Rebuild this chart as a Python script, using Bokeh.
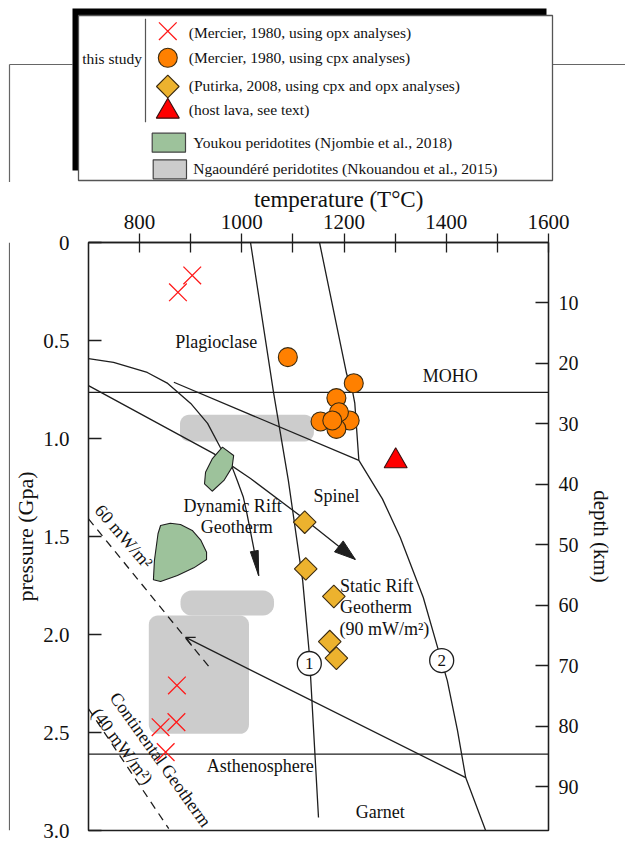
import math
from bokeh.plotting import figure
from bokeh.models import (Range1d, LinearAxis, FixedTicker, NumeralTickFormatter,
                          Span, Arrow, OpenHead)
from bokeh.layouts import column, row
from bokeh.embed import file_html
from bokeh.resources import INLINE
from bokeh.core.properties import value

SERIF = "Liberation Serif"
INK = "#1e1e1e"

# ---------------- axes / scales ----------------
T_MIN, T_MAX = 700, 1600
P_MAX = 3.0
DEPTH_MAX = 97.2
temp_ticks = [800, 1000, 1200, 1400, 1600]
temp_minor = [900, 1100, 1300, 1500]
press_ticks = [0, 0.5, 1.0, 1.5, 2.0, 2.5, 3.0]
depth_ticks = [10, 20, 30, 40, 50, 60, 70, 80, 90]
temp_title = "temperature (T°C)"

# ---------------- data points ----------------
opx_T = [903, 875, 873, 872, 841, 851]
opx_P = [0.168, 0.254, 2.26, 2.447, 2.473, 2.60]
cpx_T = [1090, 1219, 1185, 1154, 1211, 1185, 1190, 1177]
cpx_P = [0.585, 0.718, 0.794, 0.913, 0.908, 0.951, 0.866, 0.908]
put_T = [1123, 1125, 1180, 1172, 1185]
put_P = [1.427, 1.665, 1.806, 2.036, 2.121]
lava_T = [1301]
lava_P = [1.115]

# ---------------- boundaries / geotherms ----------------
moho_P = 0.765
astheno_P = 2.61
line1_T = [1017, 1062, 1091, 1119, 1132, 1150]
line1_P = [0.0, 0.765, 1.214, 1.724, 2.097, 2.934]
line2_T = [1152, 1205, 1217, 1221, 1229, 1275, 1310, 1355, 1383, 1402, 1422, 1438, 1477]
line2_P = [0.0, 0.67, 0.765, 0.82, 1.112, 1.308, 1.505, 1.811, 2.066, 2.235, 2.49, 2.73, 3.0]
num_T = [1132, 1391]
num_P = [2.148, 2.133]
num_text = ["1", "2"]
static_T = [867, 1229]
static_P = [0.713, 1.112]
dyn_T = [700, 749, 815, 855, 900, 933, 958, 981, 991, 1003, 1010, 1023, 1033]
dyn_P = [0.593, 0.612, 0.663, 0.719, 0.821, 0.923, 1.046, 1.146, 1.214, 1.30, 1.383, 1.555, 1.70]
rift_T = [700, 945, 1017, 1121, 1222]
rift_P = [0.73, 1.077, 1.204, 1.408, 1.617]
long_T = [890, 1438]
long_P = [2.015, 2.73]
g60_T = [700, 939]
g60_P = [1.41, 2.175]
g40_T = [700, 857]
g40_P = [2.379, 2.991]

# ---------------- peridotite fields ----------------
ng_left = [879, 880, 818]
ng_right = [1141, 1063, 1014]
ng_top = [0.879, 1.776, 1.903]
ng_bottom = [1.015, 1.903, 2.507]
yk1_T = [962, 984, 981, 965, 942, 927, 929, 942]
yk1_P = [1.044, 1.087, 1.146, 1.214, 1.269, 1.231, 1.172, 1.104]
yk2_T = [841, 860, 880, 903, 920, 931, 931, 906, 874, 841, 827, 829, 836]
yk2_P = [1.444, 1.432, 1.439, 1.469, 1.520, 1.580, 1.617, 1.660, 1.699, 1.730, 1.721, 1.622, 1.486]

# ---------------- labels ----------------
field_text = ["Plagioclase", "MOHO", "Spinel", "Asthenosphere", "Garnet"]
field_T = [950, 1408, 1185, 1036, 1271]
field_P = [0.510, 0.679, 1.291, 2.673, 2.908]
dynl_text = ["Dynamic Rift", "Geotherm"]
dynl_T = [982, 990]
dynl_P = [1.342, 1.449]
statl_text = ["Static Rift", "Geotherm", "(90 mW/m²)"]
statl_T = [1192, 1192, 1191]
statl_P = [1.755, 1.862, 1.974]
rot_text = ["60 mW/m²", "Continental Geotherm", "(40 mW/m²)"]
rot_T = [769, 841, 766]
rot_P = [1.50, 2.638, 2.57]
rot_angle = [-0.86, -0.95, -0.93]

legend_rows = ["(Mercier, 1980, using opx analyses)",
               "(Mercier, 1980, using cpx analyses)",
               "(Putirka, 2008, using cpx and opx analyses)",
               "(host lava, see text)"]
legend_fields = ["Youkou peridotites (Njombie et al., 2018)",
                 "Ngaoundéré peridotites (Nkouandou et al., 2015)"]

# ---------------- layout geometry (page px) ----------------
W = 625
H1 = 182
H = 852
H2 = H - H1
STRIP = 10
FL, FR, FT, FB = 88, 548, 242, 830
PX_T = (FR - FL) / (T_MAX - T_MIN)
PX_P = (FB - FT) / P_MAX

C_ORANGE = "#ff8000"
C_GOLD = "#ecb22e"
C_RED = "#ff1a1a"
C_GREEN = "#9dc29b"
C_GRAY = "#cccccc"

X_STYLE = dict(marker="x", size=25, line_color=C_RED, line_width=1.3)
O_STYLE = dict(marker="circle", size=19, fill_color=C_ORANGE, line_color="#3a2a10", line_width=1.1)
D_STYLE = dict(marker="square", size=16, angle=math.pi / 4, fill_color=C_GOLD, line_color="#3a2a10", line_width=1.1)
TR_STYLE = dict(marker="triangle", size=23, fill_color="#ff0000", line_color="#3a1010", line_width=1.1)


def rounded_rect(l, r, t, b, rad_px, n=7):
    rx = rad_px / PX_T
    ry = rad_px / PX_P
    xs, ys = [], []
    for cx, cy, a0 in [(r - rx, t + ry, -math.pi / 2), (r - rx, b - ry, 0.0),
                       (l + rx, b - ry, math.pi / 2), (l + rx, t + ry, math.pi)]:
        for k in range(n + 1):
            a = a0 + (math.pi / 2) * k / n
            xs.append(cx + rx * math.cos(a))
            ys.append(cy + ry * math.sin(a))
    return xs, ys


def head(tipT, tipP, fromT, fromP, length, half):
    dx = (tipT - fromT) * PX_T
    dy = (tipP - fromP) * PX_P
    nrm = math.hypot(dx, dy)
    ux, uy = dx / nrm, dy / nrm
    bx, by = -ux * length, -uy * length
    qx, qy = -uy * half, ux * half
    pts = [(0, 0), (bx + qx, by + qy), (bx - qx, by - qy)]
    return [tipT + x / PX_T for x, _ in pts], [tipP + y / PX_P for _, y in pts]


# ================= main figure =================
p = figure(width=W - STRIP, height=H2,
           x_range=Range1d(T_MIN, T_MAX), y_range=Range1d(P_MAX, 0),
           x_axis_location="above", y_axis_location="left",
           output_backend="svg", toolbar_location=None,
           min_border_left=FL - STRIP, min_border_right=W - FR,
           min_border_top=FT - H1, min_border_bottom=H - FB)
p.grid.visible = False
p.outline_line_color = INK
p.outline_line_width = 1.3
p.background_fill_color = "white"
p.border_fill_color = "white"
p.extra_y_ranges = {"depth": Range1d(DEPTH_MAX, 0)}


def style_axis(ax, lab_size, title_size, t_in, t_out, standoff, title_standoff):
    ax.axis_line_color = INK
    ax.axis_line_width = 1.3
    ax.major_tick_line_color = INK
    ax.major_tick_line_width = 1.3
    ax.minor_tick_line_color = INK
    ax.minor_tick_line_width = 1.3
    ax.major_tick_in = t_in
    ax.major_tick_out = t_out
    ax.minor_tick_in = t_in
    ax.minor_tick_out = t_out
    ax.major_label_text_font = SERIF
    ax.major_label_text_font_size = lab_size
    ax.major_label_text_color = "#111111"
    ax.axis_label_text_font = SERIF
    ax.axis_label_text_font_style = "normal"
    ax.axis_label_text_font_size = title_size
    ax.axis_label_text_color = "#111111"
    ax.major_label_standoff = standoff
    ax.axis_label_standoff = title_standoff


xa = p.xaxis[0]
xa.ticker = FixedTicker(ticks=temp_ticks, minor_ticks=temp_minor)
# the source figure's title sits ~20 px right of the frame centre: pad with no-break spaces
xa.axis_label = "\u00a0" * 7 + temp_title
style_axis(xa, "21px", "23px", 10, 9, 5, 0)

ya = p.yaxis[0]
ya.ticker = FixedTicker(ticks=press_ticks)
ya.formatter = NumeralTickFormatter(format="0.0")
ya.major_label_overrides = {0: "0"}
ya.axis_label = "pressure (Gpa)"
style_axis(ya, "21px", "22px", 13, 0, 19, 2)

ra = LinearAxis(y_range_name="depth", ticker=FixedTicker(ticks=depth_ticks),
                axis_label="depth (km)")
style_axis(ra, "20px", "21px", 13, 0, 10, 7)
p.add_layout(ra, "right")

# Ngaoundéré fields
ng_xs, ng_ys = [], []
for l, r, t, b, rad in zip(ng_left, ng_right, ng_top, ng_bottom, [9, 11, 9]):
    xs, ys = rounded_rect(l, r, t, b, rad)
    ng_xs.append(xs)
    ng_ys.append(ys)
p.patches(ng_xs, ng_ys, fill_color=C_GRAY, line_color=None)

# horizontal boundaries
for loc in (moho_P, astheno_P):
    p.add_layout(Span(location=loc, dimension="width", line_color=INK,
                      line_width=1.3, level="underlay"))

LW = dict(line_color=INK, line_width=1.3)
p.line(line1_T, line1_P, **LW)
p.line(line2_T, line2_P, **LW)
p.line(static_T, static_P, **LW)
p.line(dyn_T, dyn_P, **LW)
p.line(rift_T, rift_P, **LW)
p.add_layout(Arrow(start=OpenHead(size=9, line_color=INK, line_width=1.3), end=None,
                   x_start=long_T[0], y_start=long_P[0], x_end=long_T[1], y_end=long_P[1],
                   line_color=INK, line_width=1.3))
p.line(g60_T, g60_P, line_color=INK, line_width=1.3, line_dash="8 6")
p.line(g40_T, g40_P, line_color=INK, line_width=1.3, line_dash="8 6")

# arrow heads
hx1, hy1 = head(dyn_T[-1], dyn_P[-1], dyn_T[-2], dyn_P[-2], 25, 4)
hx2, hy2 = head(rift_T[-1], rift_P[-1], rift_T[-2], rift_P[-2], 21, 7)
p.patches([hx1, hx2], [hy1, hy2], fill_color=INK, line_color=INK, line_width=1)

# Youkou fields
p.patches([yk1_T, yk2_T], [yk1_P, yk2_P], fill_color=C_GREEN, line_color=INK, line_width=1.1)

# numbered circles
p.scatter(num_T, num_P, marker="circle", size=24, fill_color="white", line_color=INK, line_width=1.3)
p.text(num_T, num_P, text=num_text, text_font=value(SERIF), text_font_size="17px",
       text_align="center", text_baseline="middle", text_color="#111111")

# labels
TXT = dict(text_font=value(SERIF), text_font_size="18px", text_color="#111111")
p.text(field_T, field_P, text=field_text, text_align="center", text_baseline="middle", **TXT)
p.text(dynl_T, dynl_P, text=dynl_text, text_align="center", text_baseline="middle", **TXT)
p.text(statl_T, statl_P, text=statl_text, text_align="left", text_baseline="middle", **TXT)
p.text(rot_T, rot_P, text=rot_text, angle=rot_angle, text_align="center",
       text_baseline="middle", **TXT)

# data markers
p.scatter(opx_T, opx_P, **X_STYLE)
p.scatter(cpx_T, cpx_P, **O_STYLE)
p.scatter(put_T, put_P, **D_STYLE)
p.scatter(lava_T, lava_P, **TR_STYLE)

# ================= strip (page frame, left edge) =================
strip = figure(width=STRIP, height=H2, x_range=Range1d(0, STRIP), y_range=Range1d(0, 1),
               x_axis_location=None, y_axis_location=None, toolbar_location=None,
               output_backend="svg", min_border=0, outline_line_color=None)
strip.grid.visible = False
strip.add_layout(Span(location=9, dimension="height", line_color="#666666", line_width=1.2))

# ================= legend =================
lg = figure(width=W, height=H1, x_range=Range1d(0, W), y_range=Range1d(H1, 0),
            x_axis_location=None, y_axis_location=None, toolbar_location=None,
            output_backend="svg", min_border=0, outline_line_color=None)
lg.grid.visible = False
FRAME = dict(line_color="#666666", line_width=1.2)
lg.segment(x0=[9, 552], y0=[64, 64], x1=[72, W], y1=[64, 64], **FRAME)
lg.segment(x0=[9], y0=[64], x1=[9], y1=[H1], **FRAME)
lg.quad(left=[72], right=[546], top=[8], bottom=[170], fill_color="black", line_color=None)
lg.quad(left=[78], right=[552], top=[15], bottom=[180], fill_color="white",
        line_color="#555555", line_width=1.3)

row_y = [32.3, 57.3, 85.0, 109.3]
sym_y = [30.7, 57.3, 86.0, 111.0]
SX = 167.3
lg.scatter([SX], [sym_y[0]], **X_STYLE)
lg.scatter([SX], [sym_y[1]], **O_STYLE)
lg.scatter([SX], [sym_y[2]], **D_STYLE)
lg.scatter([SX], [sym_y[3]], **TR_STYLE)
LTXT = dict(text_font=value(SERIF), text_font_size="15.5px", text_color="#111111",
            text_baseline="middle", text_align="left")
lg.text([188.3] * 4, row_y, text=legend_rows, **LTXT)
lg.text([81.7], [58.3], text=["this study"], **LTXT)
lg.segment(x0=[145], y0=[18.3], x1=[145], y1=[121.7], line_color="#555555", line_width=1.2)
lg.quad(left=[151.7, 152.7], right=[185, 186], top=[132.7, 159.3], bottom=[151.7, 178.3],
        fill_color=[C_GREEN, C_GRAY], line_color="#444444", line_width=1.2)
lg.text([192.7, 192.7], [142.3, 167.7], text=legend_fields, **LTXT)

layout = column(lg, row(strip, p))
open("out.html", "w").write(file_html(layout, INLINE))
